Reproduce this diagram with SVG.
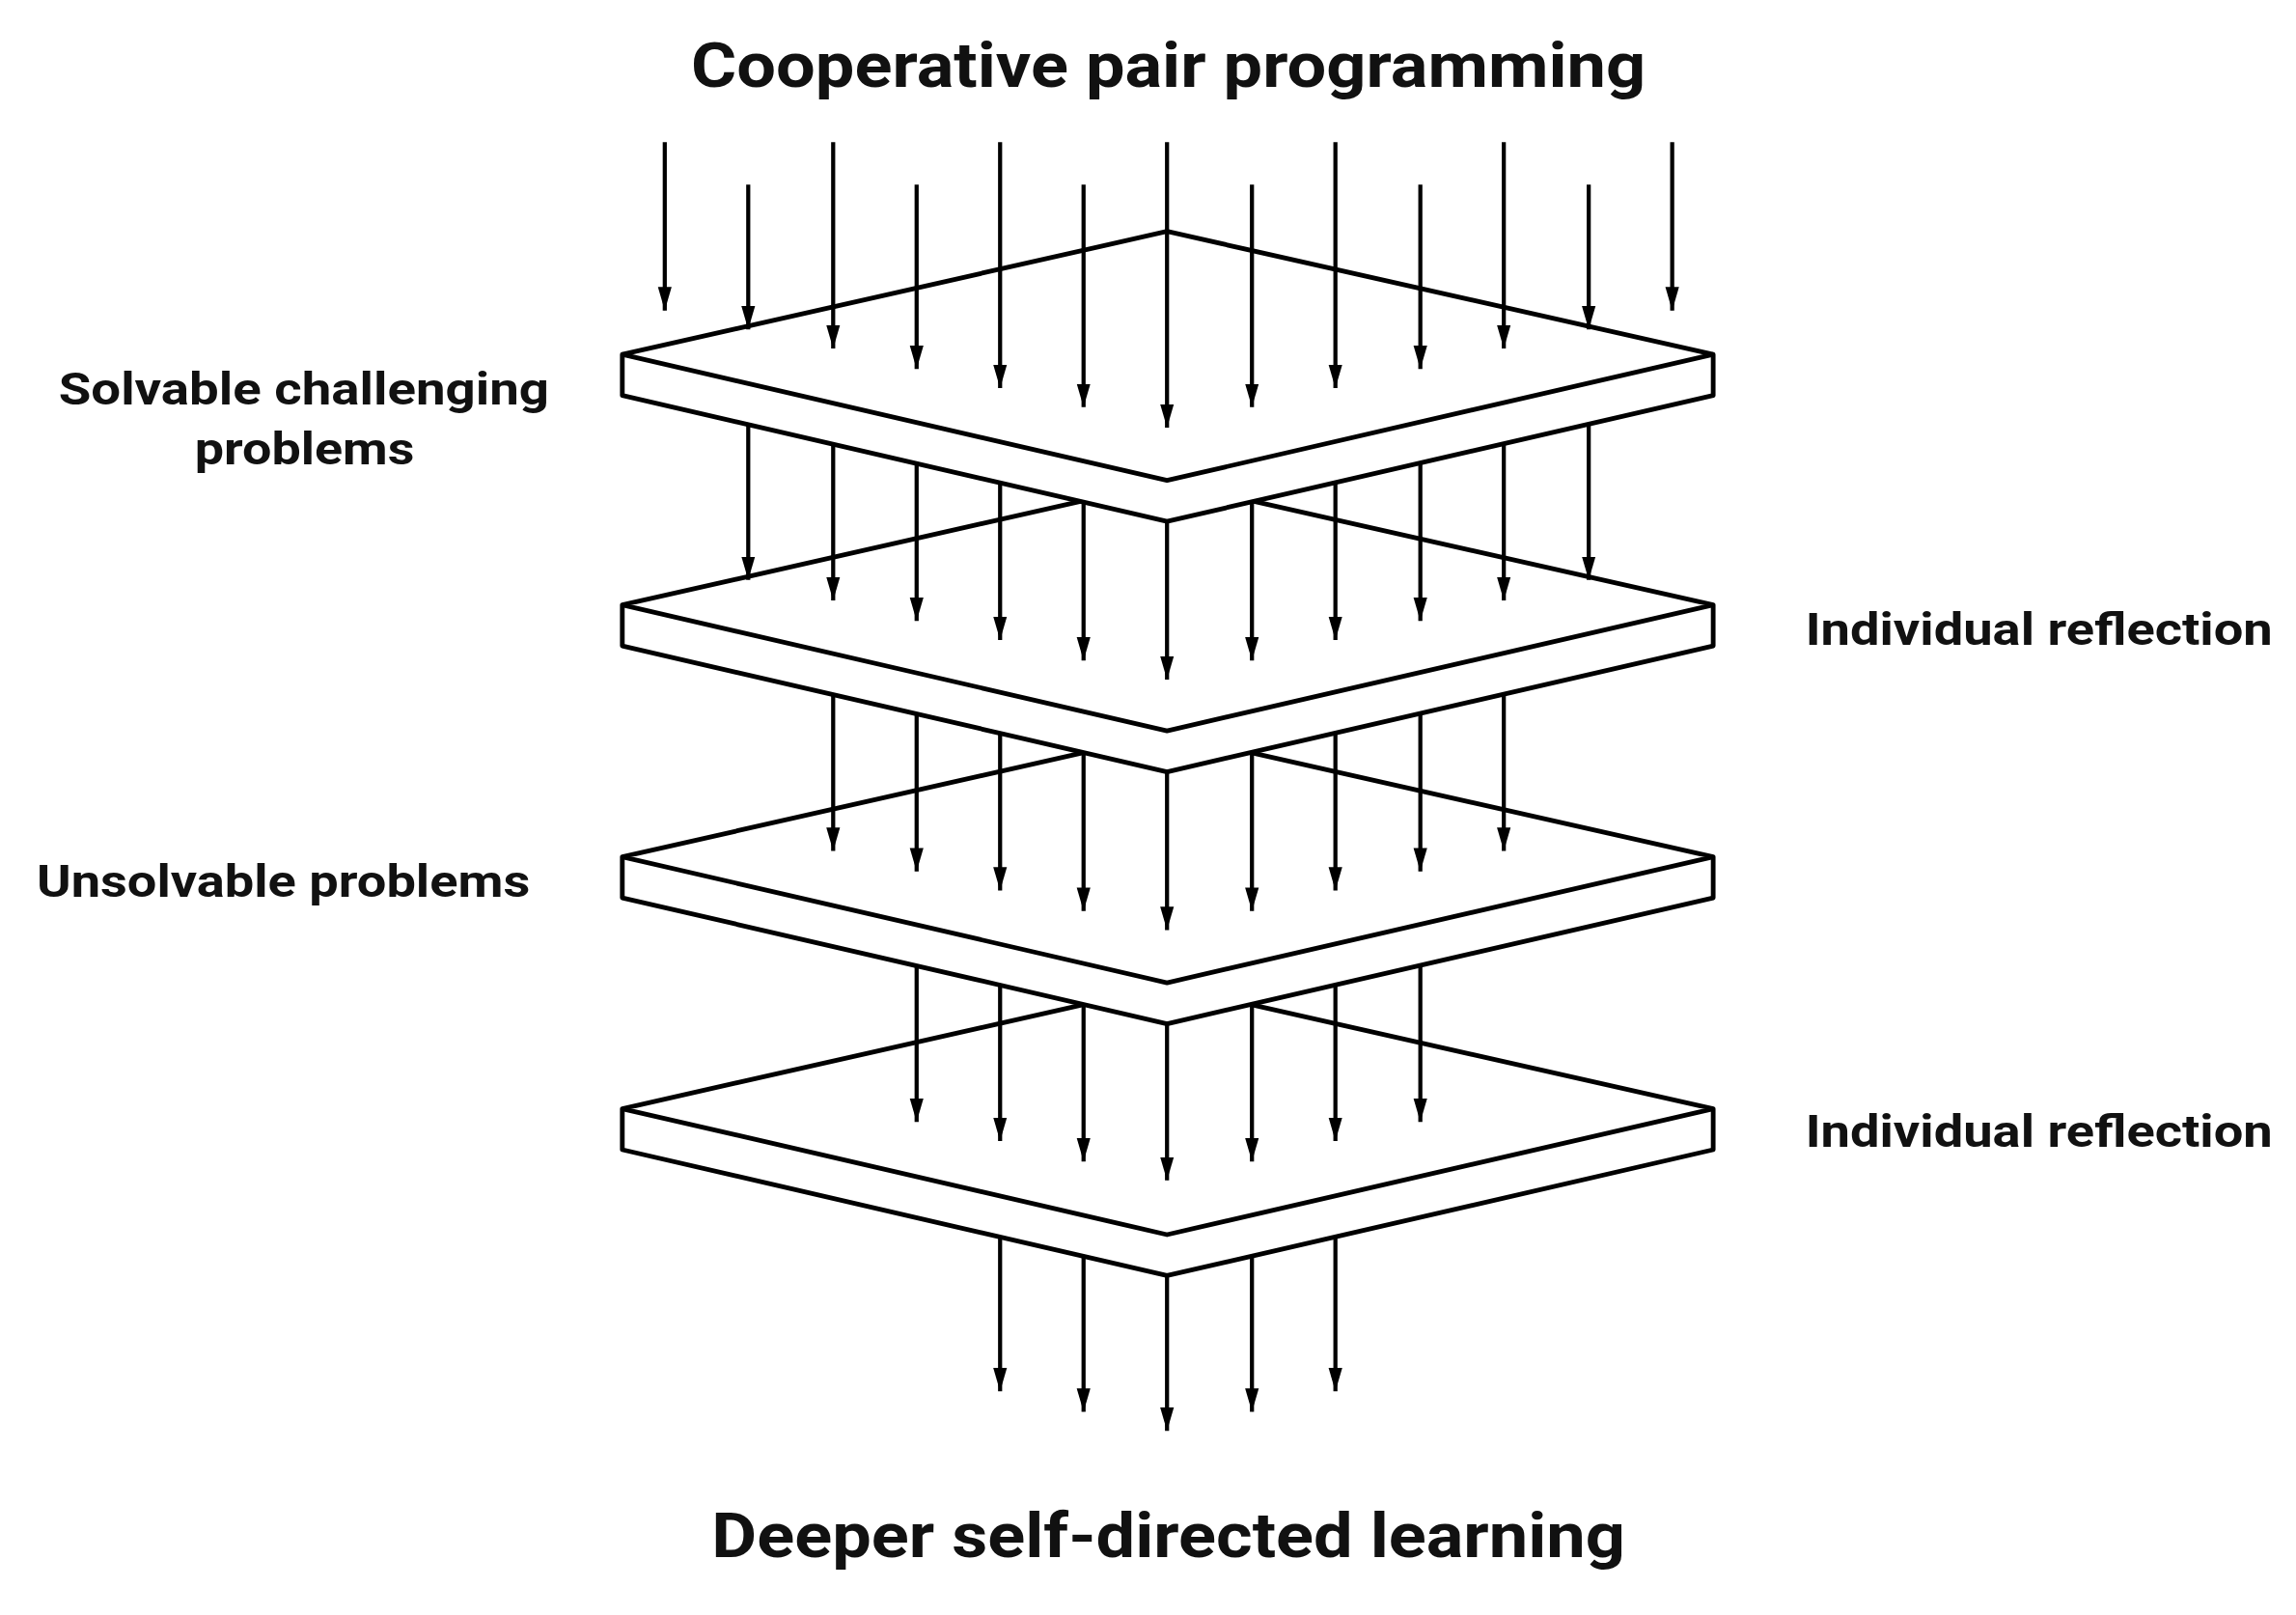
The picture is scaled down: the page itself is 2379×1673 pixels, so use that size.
<svg xmlns="http://www.w3.org/2000/svg" width="2379" height="1673" viewBox="0 0 2379 1673">
<defs>
<style>
.p{fill:#fff;stroke:#000;stroke-width:3.2;stroke-linejoin:round}
.a{stroke:#000;stroke-width:2.8;fill:none;marker-end:url(#ah)}
.t{font-family:Roboto,"Liberation Sans",sans-serif;font-weight:bold;fill:#111}
</style>
<marker id="ah" markerUnits="userSpaceOnUse" markerWidth="16" markerHeight="26" refX="24" refY="7" orient="auto" viewBox="0 0 24 14">
<path d="M0,0 L24,7 L0,14 Z" fill="#000"/>
</marker>
<g id="plate"><path class="p" d="M425,242 L797,158 L1170,242 L1170,270 L797,356 L425,270 Z"/><path class="p" fill="none" d="M425,242 L797,328 L1170,242"/></g>
</defs>
<rect width="2379" height="1673" fill="#fff"/>
<g transform="scale(1.5172)">
<g id="connectors-l4">
<path class="a" d="M683,780 V950"/><path class="a" d="M740,800 V964"/><path class="a" d="M797,820 V977"/><path class="a" d="M855,800 V964"/><path class="a" d="M912,780 V950"/>
</g>
<g id="plate4"><use href="#plate" y="515"/></g>
<g id="connectors-l3">
<path class="a" d="M626,600 V766"/><path class="a" d="M683,620 V779"/><path class="a" d="M740,640 V793"/><path class="a" d="M797,660 V806"/><path class="a" d="M855,640 V793"/><path class="a" d="M912,620 V779"/><path class="a" d="M970,600 V766"/>
</g>
<g id="plate3"><use href="#plate" y="343"/></g>
<g id="connectors-l2">
<path class="a" d="M569,420 V581"/><path class="a" d="M626,440 V595"/><path class="a" d="M683,460 V608"/><path class="a" d="M740,480 V622"/><path class="a" d="M797,500 V635"/><path class="a" d="M855,480 V622"/><path class="a" d="M912,460 V608"/><path class="a" d="M970,440 V595"/><path class="a" d="M1027,420 V581"/>
</g>
<g id="plate2"><use href="#plate" y="171"/></g>
<g id="connectors-l1">
<path class="a" d="M511,250 V396"/><path class="a" d="M569,270 V410"/><path class="a" d="M626,290 V424"/><path class="a" d="M683,310 V437"/><path class="a" d="M740,320 V451"/><path class="a" d="M797,330 V464"/><path class="a" d="M855,320 V451"/><path class="a" d="M912,310 V437"/><path class="a" d="M970,290 V424"/><path class="a" d="M1027,270 V410"/><path class="a" d="M1085,250 V396"/>
</g>
<g id="plate1"><use href="#plate"/></g>
<g id="connectors-top">
<path class="a" d="M454,97 V212"/><path class="a" d="M511,126 V225"/><path class="a" d="M569,97 V238"/><path class="a" d="M626,126 V252"/><path class="a" d="M683,97 V265"/><path class="a" d="M740,126 V278"/><path class="a" d="M797,97 V292"/><path class="a" d="M855,126 V278"/><path class="a" d="M912,97 V265"/><path class="a" d="M970,126 V252"/><path class="a" d="M1027,97 V238"/><path class="a" d="M1085,126 V225"/><path class="a" d="M1142,97 V212"/>
</g>
<g id="labels">
<text class="t" x="472" y="59" font-size="43" textLength="652" lengthAdjust="spacingAndGlyphs">Cooperative pair programming</text>
<text class="t" x="486" y="1063" font-size="43" textLength="624" lengthAdjust="spacingAndGlyphs">Deeper self-directed learning</text>
<text class="t" x="40" y="276" font-size="31" textLength="335" lengthAdjust="spacingAndGlyphs">Solvable challenging</text>
<text class="t" x="133" y="317" font-size="31" textLength="150" lengthAdjust="spacingAndGlyphs">problems</text>
<text class="t" x="25" y="612" font-size="31" textLength="337" lengthAdjust="spacingAndGlyphs">Unsolvable problems</text>
<text class="t" x="1233" y="440" font-size="31" textLength="319" lengthAdjust="spacingAndGlyphs">Individual reflection</text>
<text class="t" x="1233" y="783" font-size="31" textLength="319" lengthAdjust="spacingAndGlyphs">Individual reflection</text>
</g>
</g>
</svg>
